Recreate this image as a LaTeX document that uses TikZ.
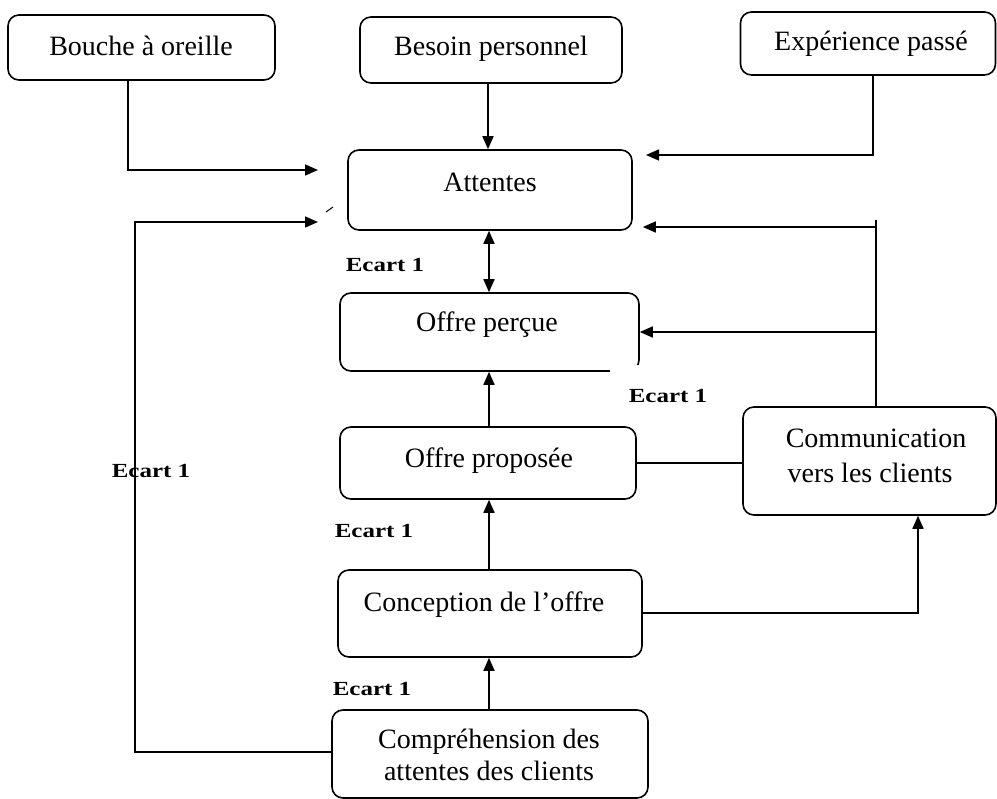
\documentclass[tikz,border=0pt]{standalone}
\usepackage{fontspec}
\setmainfont{Liberation Serif}
\usetikzlibrary{arrows.meta}
\begin{document}
\begin{tikzpicture}[x=1pt,y=-1pt,
  box/.style={draw, line width=1.6pt, rounded corners=11pt, inner sep=0pt},
  txt/.style={anchor=base, inner sep=0pt, font=\fontsize{28}{32}\selectfont},
  ecart/.style={anchor=base, inner sep=0pt, font=\fontsize{20}{24}\selectfont\bfseries},
  conn/.style={line width=1.6pt},
  arr/.style={conn, -{Triangle[length=13pt,width=11pt]}}]
\useasboundingbox (0,0) rectangle (997,799);
% boxes
\node[box, minimum width=267pt, minimum height=65pt] (bouche) at (141.5,47.5) {};
\node[box, minimum width=262pt, minimum height=66pt] (besoin) at (491,50) {};
\node[box, minimum width=255pt, minimum height=63pt] (exp) at (868,43.5) {};
\node[box, minimum width=284pt, minimum height=80pt] (att) at (490,190) {};
\node[box, minimum width=299pt, minimum height=78pt] (perc) at (489.5,332) {};
\node[box, minimum width=296pt, minimum height=72pt] (prop) at (488,463) {};
\node[box, minimum width=253pt, minimum height=108pt] (comm) at (869.5,461) {};
\node[box, minimum width=304pt, minimum height=87pt] (conc) at (490,613.5) {};
\node[box, minimum width=316pt, minimum height=88pt] (compr) at (490,754) {};
% gap at the lower right corner of "Offre percue"
\fill[white] (610,365) rectangle (646,377);
% texts
\node[txt] (tbouche) at (141,56) {Bouche à oreille};
\node[txt] (tbesoin) at (491,56) {Besoin personnel};
\node[txt] (texp) at (871,51) {Expérience passé};
\node[txt] (tatt) at (490,192) {Attentes};
\node[txt] (tperc) at (487,332) {Offre perçue};
\node[txt] (tprop) at (489,468) {Offre proposée};
\node[txt] (tcomm1) at (876,448) {Communication};
\node[txt] (tcomm2) at (870,483) {vers les clients};
\node[txt] (tconc) at (484,612) {Conception de l’offre};
\node[txt] (tcompr1) at (489,748) {Compréhension des};
\node[txt] (tcompr2) at (489,780) {attentes des clients};
% ecart labels
\node[ecart] (e1) at (385,272) {\scalebox{1.25}[1]{Ecart 1}};
\node[ecart] (e2) at (668,403) {\scalebox{1.25}[1]{Ecart 1}};
\node[ecart] (e3) at (151,478) {\scalebox{1.25}[1]{Ecart 1}};
\node[ecart] (e4) at (374,538) {\scalebox{1.25}[1]{Ecart 1}};
\node[ecart] (e5) at (372,695) {\scalebox{1.25}[1]{Ecart 1}};
% free ends
\coordinate (c1) at (318,170);
\coordinate (c2) at (646,155);
\coordinate (c3) at (318,222);
\coordinate (cl) at (135,752);
\coordinate (ctop) at (876,220);
\coordinate (cb1) at (876,227);
\coordinate (cb2) at (876,332);
% connectors
\draw[arr] (bouche.south -| 128,0) |- (c1);
\draw[arr] (besoin.south -| 488,0) -- (att.north -| 488,0);
\draw[arr] (exp.south -| 873,0) |- (c2);
\draw[arr] (compr.west |- cl) -- (cl) |- (c3);
\draw[conn, line width=1pt] (326,212) -- (333,207);
\draw[conn, {Triangle[length=13pt,width=11pt]}-{Triangle[length=13pt,width=11pt]}] (att.south -| 489,0) -- (perc.north -| 489,0);
\draw[arr] (prop.north -| 489,0) -- (perc.south -| 489,0);
\draw[arr] (conc.north -| 489,0) -- (prop.south -| 489,0);
\draw[arr] (compr.north -| 489,0) -- (conc.south -| 489,0);
\draw[arr] (conc.east |- 0,613) -| (comm.south -| 918,0);
\draw[conn] (prop.east) -- (comm.west |- prop.east);
\draw[conn] (comm.north -| ctop) -- (ctop);
\draw[arr] (cb1) -- ([xshift=10pt]att.east |- cb1);
\draw[arr] (cb2) -- (perc.east |- cb2);
\end{tikzpicture}
\end{document}
